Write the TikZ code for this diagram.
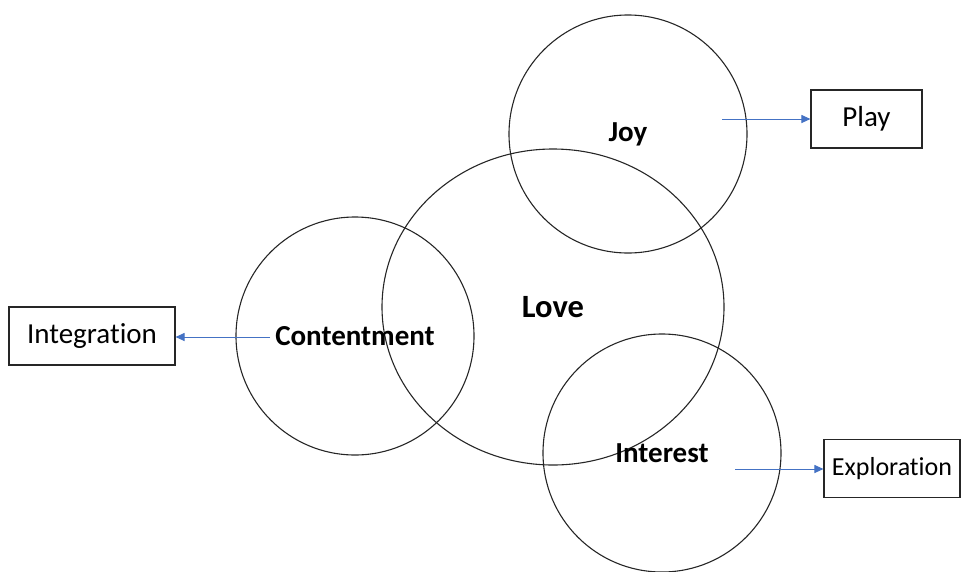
\documentclass[tikz,border=0pt]{standalone}
\usepackage{fontspec}
\setmainfont[Ligatures=NoCommon]{Carlito}
\usetikzlibrary{arrows.meta, positioning, shapes.geometric}
\definecolor{linkblue}{RGB}{68,114,196}

\begin{document}
\begin{tikzpicture}[x=1pt, y=-1pt,
    ring/.style={circle, draw=black!85, line width=1.1pt, minimum size=238pt, inner sep=0pt, font=\fontsize{29}{31}\selectfont\bfseries},
    box/.style={rectangle, draw=black!85, line width=1.1pt, minimum height=58pt, inner sep=0pt, font=\fontsize{29}{31}\selectfont},
    link/.style={draw=linkblue, line width=1pt, -{Triangle[length=9pt, width=8pt]}}]
    \useasboundingbox (0,0) rectangle (961,571);

    \node[ellipse, draw=black!85, line width=1.1pt, minimum width=342pt, minimum height=316pt, inner sep=0pt, font=\fontsize{32.5}{34}\selectfont\bfseries] (love) at (553,307) {Love};
    \node[ring] (joy) at (628,134) {Joy};
    \node[ring] (cont) at (355,336) {Contentment};
    \node[ring] (inter) at (662,453) {Interest};

    \node[box, minimum width=111pt] (play) at (866.5,119) {Play};
    \node[box, minimum width=166pt] (integ) at (92,336) {Integration};
    \node[box, minimum width=136pt, font=\fontsize{26}{28}\selectfont] (explo) at (892,468.5) {Exploration};

    \coordinate (joyout) at (722,119);
    \coordinate (contout) at (270,337);
    \coordinate (interout) at (735,469);

    \draw[link] (joyout) -- (joyout -| play.west);
    \draw[link] (contout) -- (contout -| integ.east);
    \draw[link] (interout) -- (interout -| explo.west);
\end{tikzpicture}
\end{document}
